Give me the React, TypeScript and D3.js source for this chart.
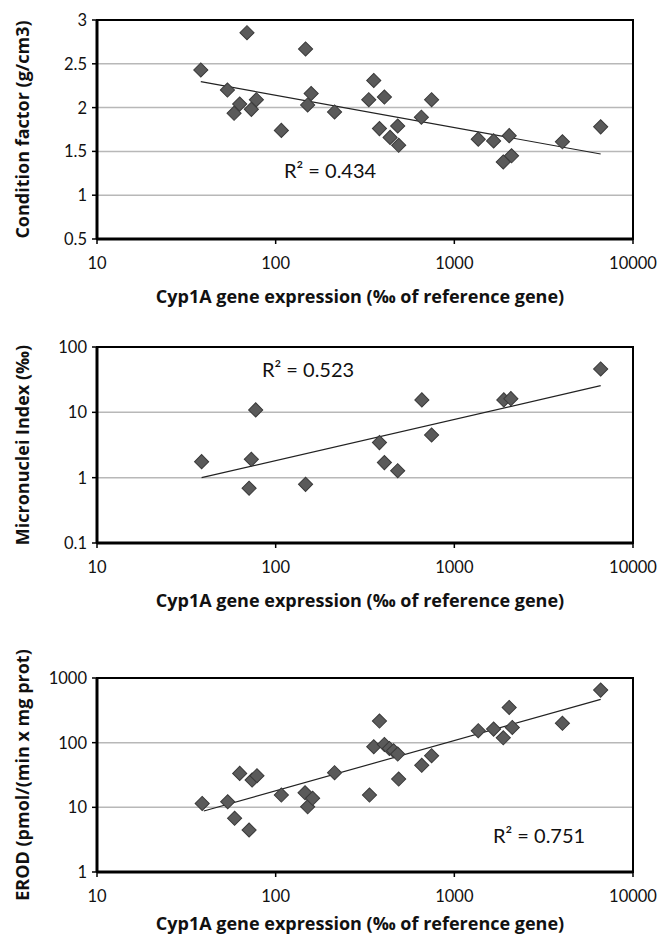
import React from "react";
import * as d3 from "d3";

// ---------- Data ----------
const xLabel = "Cyp1A gene expression (‰ of reference gene)";
const xTicks = [10, 100, 1000, 10000];

// Panel 1: Condition factor
const cfX = [38.1, 69.1, 53.7, 62.9, 58.5, 73.1, 78.0, 107.6, 147, 151, 158, 213.6, 354, 332, 406, 381, 437, 482, 488, 654, 746, 1361, 1659, 2028, 1879, 2090, 4027, 6593];
const cfY = [2.43, 2.855, 2.2, 2.04, 1.935, 1.98, 2.09, 1.74, 2.67, 2.03, 2.16, 1.95, 2.31, 2.09, 2.12, 1.76, 1.66, 1.79, 1.57, 1.89, 2.09, 1.64, 1.62, 1.68, 1.38, 1.45, 1.61, 1.78];
const cfTrend = [[38.1, 2.296], [6593, 1.47]];
const cfTicks = [0.5, 1, 1.5, 2, 2.5, 3];
const cfGrid = [1, 1.5, 2, 2.5];

// Panel 2: Micronuclei index
const mnX = [38.5, 77.3, 73.1, 71, 147, 381, 406, 482, 658, 746, 1892, 2072, 6593];
const mnY = [1.76, 10.9, 1.91, 0.69, 0.79, 3.44, 1.7, 1.28, 15.5, 4.5, 15.5, 16.2, 46.2];
const mnTrend = [[38.5, 1.0], [6593, 25.6]];
const mnTicks = [0.1, 1, 10, 100];
const mnGrid = [1, 10];

// Panel 3: EROD
const erX = [38.8, 53.9, 58.9, 62.9, 73.8, 78.6, 71, 107.6, 146, 151, 161, 213.6, 335, 381, 354, 406, 433, 457, 482, 488, 657, 746, 1361, 1659, 2028, 2110, 1879, 4027, 6593];
const erY = [11.5, 12.2, 6.76, 33.5, 26.4, 30.8, 4.46, 15.5, 16.8, 10.2, 13.8, 34.3, 15.5, 216, 86.5, 94, 81.5, 75, 66.7, 27.4, 44.6, 62.8, 153, 162, 351, 172, 119, 199, 650];
const erTrend = [[39.6, 8.77], [6593, 467]];
const erTicks = [1, 10, 100, 1000];
const erGrid = [10, 100];

const FONT = "Lato, 'Open Sans', sans-serif";
const TFONT = "'Open Sans', Lato, sans-serif";
const LEFT = 97;
const RIGHT = 633;

type PanelProps = {
  top: number;
  bottom: number;
  yType: "linear" | "log";
  yDomain: [number, number];
  xs: number[];
  ys: number[];
  trend: number[][];
  yTicks: number[];
  grid: number[];
  yTitle: string;
  r2: string;
  r2x: number;
  r2y: number;
  xTitleDy: number;
};

function Panel(p: PanelProps) {
  const x = d3.scaleLog().domain([10, 10000]).range([LEFT, RIGHT]);
  const y =
    p.yType === "log"
      ? d3.scaleLog().domain(p.yDomain).range([p.bottom, p.top])
      : d3.scaleLinear().domain(p.yDomain).range([p.bottom, p.top]);
  const line = d3
    .line<number[]>()
    .x((d) => x(d[0]))
    .y((d) => y(d[1]));
  const sym = d3.symbol().type(d3.symbolSquare).size(100)();
  const yMid = (p.top + p.bottom) / 2;
  const fmt = (v: number) => String(v);
  return (
    <g>
      {p.grid.map((g) => (
        <line key={"g" + g} x1={LEFT} x2={RIGHT} y1={y(g)} y2={y(g)} stroke="#b8b8b8" strokeWidth={1.5} />
      ))}
      {/* frame */}
      <rect x={LEFT} y={p.top} width={RIGHT - LEFT} height={p.bottom - p.top} fill="none" stroke="#000" strokeWidth={2} />
      <line x1={LEFT} x2={LEFT} y1={p.top} y2={p.bottom} stroke="#000" strokeWidth={3} />
      <line x1={LEFT} x2={RIGHT} y1={p.bottom} y2={p.bottom} stroke="#000" strokeWidth={3} />
      {/* y ticks */}
      {p.yTicks.map((t) => (
        <g key={"yt" + t}>
          <line x1={LEFT - 5} x2={LEFT} y1={y(t)} y2={y(t)} stroke="#000" strokeWidth={1.5} />
          <text x={LEFT - 10} y={y(t)} textAnchor="end" dominantBaseline="central" fontFamily={FONT} fontSize={16.5} fill="#111">
            {fmt(t)}
          </text>
        </g>
      ))}
      {/* x ticks */}
      {xTicks.map((t) => (
        <g key={"xt" + t}>
          <line x1={x(t)} x2={x(t)} y1={p.bottom} y2={p.bottom + 5} stroke="#000" strokeWidth={1.5} />
          <text x={x(t)} y={p.bottom + 24} textAnchor="middle" dominantBaseline="central" fontFamily={FONT} fontSize={16.5} fill="#111">
            {fmt(t)}
          </text>
        </g>
      ))}
      {/* trend line */}
      <path d={line(p.trend) || ""} fill="none" stroke="#222" strokeWidth={1.2} />
      {/* points */}
      {p.xs.map((xv, i) => (
        <path
          key={"p" + i}
          d={sym || ""}
          transform={`translate(${x(xv)},${y(p.ys[i])}) rotate(45)`}
          fill="#5a5a5a"
          stroke="#3a3a3a"
          strokeWidth={1}
        />
      ))}
      {/* R2 */}
      <text x={p.r2x} y={p.r2y} fontFamily={FONT} fontSize={20} fill="#111">
        {p.r2}
      </text>
      {/* titles */}
      <text x={360} y={p.bottom + p.xTitleDy} textAnchor="middle" dominantBaseline="central" fontFamily={TFONT} fontWeight="bold" fontSize={18} fill="#111">
        {xLabel}
      </text>
      <text
        transform={`translate(22,${yMid}) rotate(-90)`}
        textAnchor="middle"
        dominantBaseline="central"
        fontFamily={TFONT}
        fontWeight="bold"
        fontSize={18}
        fill="#111"
      >
        {p.yTitle}
      </text>
    </g>
  );
}

export default function App() {
  return (
    <svg width={661} height={934} style={{ position: "absolute", left: 0, top: 0, background: "#fff" }}>
      <rect width={661} height={934} fill="#fff" />
      <Panel
        top={20}
        bottom={239}
        yType="linear"
        yDomain={[0.5, 3]}
        xs={cfX}
        ys={cfY}
        trend={cfTrend}
        yTicks={cfTicks}
        grid={cfGrid}
        yTitle="Condition factor (g/cm3)"
        r2="R² = 0.434"
        r2x={284}
        r2y={178}
        xTitleDy={57}
      />
      <Panel
        top={347}
        bottom={543}
        yType="log"
        yDomain={[0.1, 100]}
        xs={mnX}
        ys={mnY}
        trend={mnTrend}
        yTicks={mnTicks}
        grid={mnGrid}
        yTitle="Micronuclei Index (‰)"
        r2="R² = 0.523"
        r2x={262}
        r2y={377}
        xTitleDy={57}
      />
      <Panel
        top={678}
        bottom={872}
        yType="log"
        yDomain={[1, 1000]}
        xs={erX}
        ys={erY}
        trend={erTrend}
        yTicks={erTicks}
        grid={erGrid}
        yTitle="EROD (pmol/(min x mg prot)"
        r2="R² = 0.751"
        r2x={493}
        r2y={843}
        xTitleDy={51}
      />
    </svg>
  );
}
